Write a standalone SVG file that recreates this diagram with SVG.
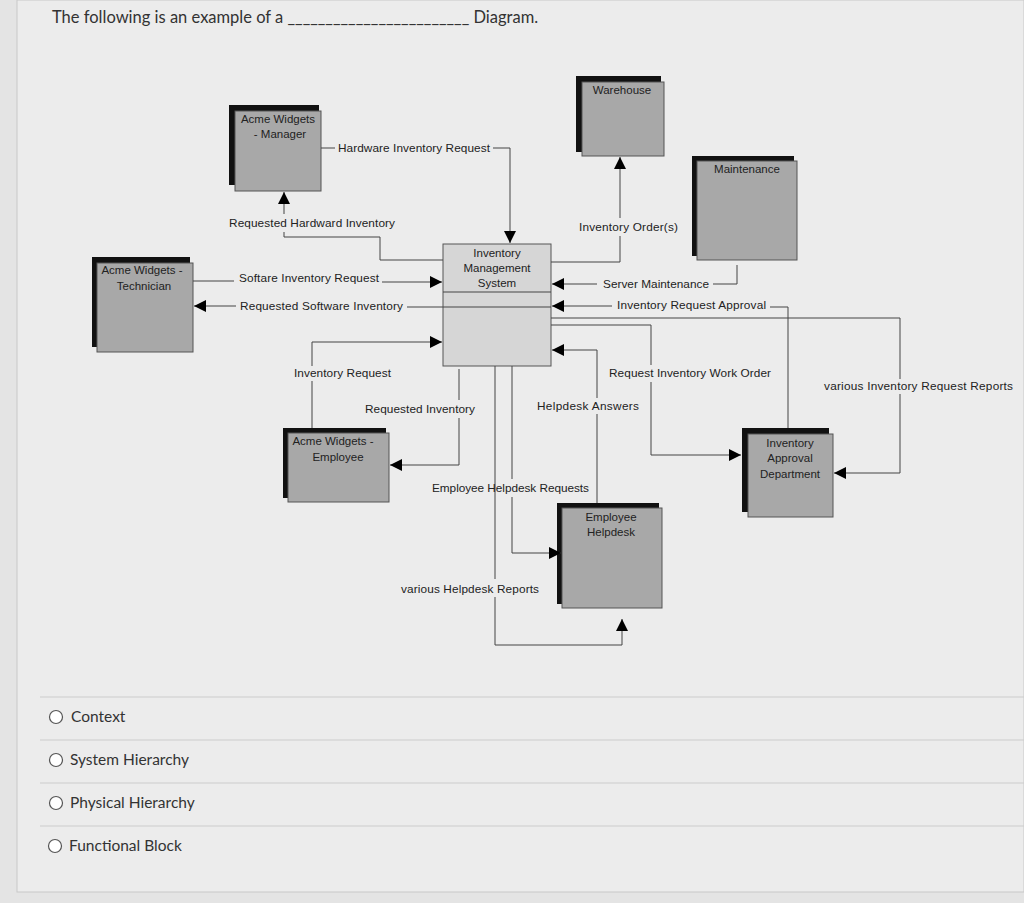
<svg xmlns="http://www.w3.org/2000/svg" width="1024" height="903" viewBox="0 0 1024 903">
<style>
.sh{fill:#111}.bx{fill:#a8a8a8;stroke:#555;stroke-width:1}
.nt{font-family:"Liberation Sans",Arial,sans-serif;font-size:11.5px;fill:#222;text-anchor:middle}
.lb{font-family:"Liberation Sans",Arial,sans-serif;font-size:11.8px;fill:#222}
.c{fill:none;stroke:#444;stroke-width:1}
.q{font-family:"Lato","Liberation Sans",sans-serif;font-size:16.5px;fill:#333}
.opt{font-family:"Lato","Liberation Sans",sans-serif;font-size:15.5px;fill:#333}
.rd{fill:#fff;stroke:#555;stroke-width:1.2}
.sep{stroke:#ccc;stroke-width:1}
</style>
<defs><marker id="a" viewBox="0 0 10 10" refX="10" refY="5" markerWidth="12" markerHeight="12" markerUnits="userSpaceOnUse" orient="auto"><path d="M0,0L10,5L0,10z" fill="#000"/></marker></defs>
<rect width="1024" height="903" fill="#e4e4e4"/>
<rect x="17" y="0" width="1007" height="892" fill="#ececec" stroke="#c8c8c8"/>
<text class="q" x="52" y="23">The following is an example of a ________________________ Diagram.</text>
<g id="manager"><rect class="sh" x="229" y="105" width="90" height="80"/><rect class="bx" x="235" y="111" width="86" height="80"/><text class="nt" x="278" y="123">Acme Widgets</text><text class="nt" x="280" y="138">- Manager</text></g>
<g id="technician"><rect class="sh" x="92" y="257" width="98" height="90"/><rect class="bx" x="97" y="263" width="96" height="89"/><text class="nt" x="142" y="274">Acme Widgets -</text><text class="nt" x="144" y="290">Technician</text></g>
<g id="warehouse"><rect class="sh" x="576" y="76" width="85" height="76"/><rect class="bx" x="582" y="82" width="82" height="74"/><text class="nt" x="622" y="94">Warehouse</text></g>
<g id="maintenance"><rect class="sh" x="692" y="156" width="102" height="100"/><rect class="bx" x="697" y="161" width="100" height="99"/><text class="nt" x="747" y="173">Maintenance</text></g>
<g id="ims"><rect x="443" y="244" width="108" height="122" fill="#d6d6d6" stroke="#555"/><line class="c" x1="443" y1="292" x2="551" y2="292"/><line class="c" x1="443" y1="307" x2="551" y2="307"/><text class="nt" x="497" y="257">Inventory</text><text class="nt" x="497" y="272">Management</text><text class="nt" x="497" y="287">System</text></g>
<g id="employee"><rect class="sh" x="283" y="428" width="103" height="70"/><rect class="bx" x="288" y="433" width="101" height="69"/><text class="nt" x="333" y="445">Acme Widgets -</text><text class="nt" x="338" y="461">Employee</text></g>
<g id="helpdesk"><rect class="sh" x="557" y="503" width="102" height="101"/><rect class="bx" x="562" y="508" width="100" height="100"/><text class="nt" x="611" y="521">Employee</text><text class="nt" x="611" y="536">Helpdesk</text></g>
<g id="iad"><rect class="sh" x="742" y="428" width="87" height="84"/><rect class="bx" x="748" y="434" width="85" height="83"/><text class="nt" x="790" y="447">Inventory</text><text class="nt" x="790" y="462">Approval</text><text class="nt" x="790" y="478">Department</text></g>
<g id="connectors">
<path class="c" d="M321,148H335M493,148H510V243" marker-end="url(#a)"/>
<path class="c" d="M443,260H380V237H284V232M284,214V192" marker-end="url(#a)"/>
<path class="c" d="M193,281H234M382,282H442" marker-end="url(#a)"/>
<path class="c" d="M443,307H407M236,306H194" marker-end="url(#a)"/>
<path class="c" d="M312,428V381M312,366V342H442" marker-end="url(#a)"/>
<path class="c" d="M459,369V400M459,418V465H390" marker-end="url(#a)"/>
<path class="c" d="M512,366V479M512,497V553H561" marker-end="url(#a)"/>
<path class="c" d="M495,366V579M495,597V645H622V619" marker-end="url(#a)"/>
<path class="c" d="M597,503V414M597,398V350H552" marker-end="url(#a)"/>
<path class="c" d="M551,325H651V365M651,382V455H741" marker-end="url(#a)"/>
<path class="c" d="M551,262H620V236M620,218V157" marker-end="url(#a)"/>
<path class="c" d="M737,265V284H713M597,284H552" marker-end="url(#a)"/>
<path class="c" d="M788,428V307H770M612,306H552" marker-end="url(#a)"/>
<path class="c" d="M551,318H900V379M900,394V473H834" marker-end="url(#a)"/>
<text class="lb" x="338" y="152" textLength="152">Hardware Inventory Request</text>
<text class="lb" x="229" y="227" textLength="166">Requested Hardward Inventory</text>
<text class="lb" x="239" y="282" textLength="140">Softare Inventory Request</text>
<text class="lb" x="240" y="310" textLength="163">Requested Software Inventory</text>
<text class="lb" x="294" y="377" textLength="97">Inventory Request</text>
<text class="lb" x="365" y="413" textLength="110">Requested Inventory</text>
<text class="lb" x="432" y="492" textLength="157">Employee Helpdesk Requests</text>
<text class="lb" x="401" y="593" textLength="138">various Helpdesk Reports</text>
<text class="lb" x="537" y="410" textLength="102">Helpdesk Answers</text>
<text class="lb" x="609" y="377" textLength="162">Request Inventory Work Order</text>
<text class="lb" x="579" y="231" textLength="99">Inventory Order(s)</text>
<text class="lb" x="603" y="288" textLength="106">Server Maintenance</text>
<text class="lb" x="617" y="309" textLength="149">Inventory Request Approval</text>
<text class="lb" x="824" y="390" textLength="189">various Inventory Request Reports</text>
</g>
<line class="sep" x1="40" y1="697" x2="1024" y2="697"/>
<line class="sep" x1="40" y1="740" x2="1024" y2="740"/>
<line class="sep" x1="40" y1="783" x2="1024" y2="783"/>
<line class="sep" x1="40" y1="826" x2="1024" y2="826"/>
<circle class="rd" cx="56" cy="717" r="6.5"/><text class="opt" x="71" y="722">Context</text>
<circle class="rd" cx="56" cy="760" r="6.5"/><text class="opt" x="70" y="765">System Hierarchy</text>
<circle class="rd" cx="56" cy="803" r="6.5"/><text class="opt" x="70" y="808">Physical Hierarchy</text>
<circle class="rd" cx="55" cy="846" r="6.5"/><text class="opt" x="69" y="851">Functional Block</text>
</svg>
